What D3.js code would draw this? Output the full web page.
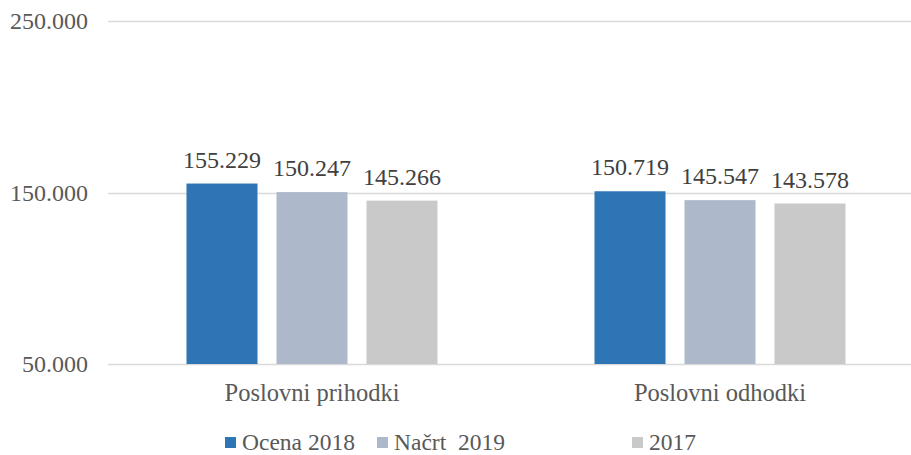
<!DOCTYPE html>
<html>
<head>
<meta charset="utf-8">
<script src="https://cdn.jsdelivr.net/npm/d3@7"></script>
<style>
  body { margin: 0; background: #fff; }
  svg text { font-family: "Liberation Serif", "DejaVu Serif", serif; }
</style>
</head>
<body>
<div id="chart"></div>
<script>
const categories = ["Poslovni prihodki", "Poslovni odhodki"]
const seriesNames = ["Ocena 2018", "Načrt  2019", "2017"]
const ocena2018 = [155229, 150719]
const nacrt2019 = [150247, 145547]
const leto2017 = [145266, 143578]
const yTicks = [50000, 150000, 250000]

const colors = ["#2E75B6", "#ADB9CA", "#C9C9C9"]
const series = [ocena2018, nacrt2019, leto2017]
const serif = "Liberation Serif, DejaVu Serif, serif"

function translate(x,y){return `translate(${x}, ${y})`}
function fmt(v){ return d3.format(",")(v).replace(/,/g, ".") }

const svgWidth = 911, svgHeight = 455
const svg = d3.select("#chart").append("svg").attr("width", svgWidth).attr("height", svgHeight)

// plot runs past the right edge (cropped like the original)
const plotLeft = 108, plotRight = 924, plotTop = 21, plotBottom = 364

const yScale = d3.scaleLinear().domain([50000, 250000]).range([plotBottom, plotTop])
const x0 = d3.scaleBand().domain(categories).range([plotLeft, plotRight])
const x1 = d3.scaleBand().domain(d3.range(seriesNames.length))
    .range([78.5, x0.bandwidth() - 78.5]).paddingInner(19/90)

// grid
svg.append("g").selectAll("line").data(yTicks).enter().append("line")
    .attr("x1", plotLeft).attr("x2", svgWidth)
    .attr("y1", d => Math.round(yScale(d)) + 0.5).attr("y2", d => Math.round(yScale(d)) + 0.5)
    .attr("stroke", "#D9D9D9").attr("stroke-width", 1.3)

// y labels
svg.append("g").selectAll("text").data(yTicks).enter().append("text")
    .attr("x", 88).attr("y", d => yScale(d) + 8)
    .attr("text-anchor", "end").attr("fill", "#595959")
    .attr("font-family", serif).attr("font-size", 24)
    .text(d => fmt(d))

// bars
const groups = svg.append("g").selectAll("g").data(categories).enter().append("g")
    .attr("transform", d => translate(x0(d), 0))

groups.selectAll("rect").data((c, ci) => series.map((s, si) => ({si, v: s[ci]})))
    .enter().append("rect")
    .attr("x", d => x1(d.si))
    .attr("y", d => yScale(d.v))
    .attr("width", x1.bandwidth())
    .attr("height", d => plotBottom - yScale(d.v))
    .attr("fill", d => colors[d.si])

groups.selectAll("text").data((c, ci) => series.map((s, si) => ({si, v: s[ci]})))
    .enter().append("text")
    .attr("x", d => x1(d.si) + x1.bandwidth() / 2)
    .attr("y", d => yScale(d.v) - 16)
    .attr("text-anchor", "middle").attr("fill", "#404040")
    .attr("font-family", serif).attr("font-size", 24)
    .text(d => fmt(d.v))

// category labels
svg.append("g").selectAll("text").data(categories).enter().append("text")
    .attr("x", d => x0(d) + x0.bandwidth() / 2)
    .attr("y", 401)
    .attr("text-anchor", "middle").attr("fill", "#595959")
    .attr("font-family", serif).attr("font-size", 24.5)
    .text(d => d)

// legend
const legendX = [225, 377, 632]
const legend = svg.append("g").selectAll("g").data(seriesNames).enter().append("g")
    .attr("transform", (d, i) => translate(legendX[i], 437))
legend.append("rect").attr("width", 11).attr("height", 11).attr("fill", (d, i) => colors[i])
legend.append("text").attr("x", 17).attr("y", 13)
    .attr("fill", "#595959")
    .attr("font-family", serif).attr("font-size", 23.5)
    .style("white-space", "pre")
    .text(d => d)
</script>
</body>
</html>
